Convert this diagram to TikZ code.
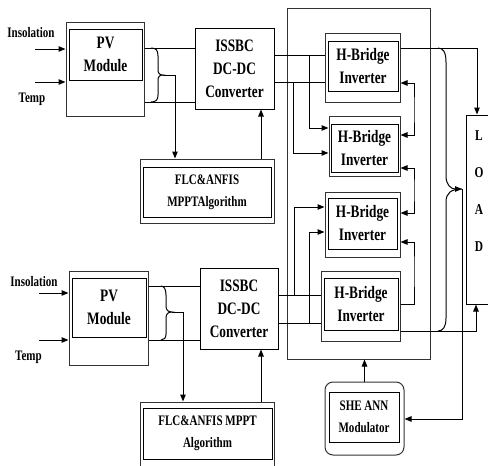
\documentclass[tikz,border=0pt]{standalone}
\usepackage{fontspec}
\setmainfont{Liberation Serif}
\newfontfamily\lblfont{Liberation Serif}[UprightFont=* Bold, FakeStretch=0.76]
\usetikzlibrary{arrows.meta,calc}
\begin{document}
\begin{tikzpicture}[x=1pt,y=-1pt,line width=1pt,
  big/.style={font=\lblfont\fontsize{17.5}{23}\selectfont},
  small/.style={font=\lblfont\fontsize{14.5}{22}\selectfont},
  box/.style={draw, inner sep=0pt, align=center},
  shell/.style={draw=black!80, inner sep=0pt},
  arr/.style={-{Triangle[length=7pt,width=5.5pt]}},
  biarr/.style={{Triangle[length=7pt,width=5.5pt]}-{Triangle[length=7pt,width=5.5pt]}}]
\useasboundingbox (0,0) rectangle (488,466);
\clip (0,0) rectangle (488,466);

% ---------- upper string ----------
\node[small] (ins1) at (31,33) {Insolation};
\node[small] (tmp1) at (32,99) {Temp};
\node[shell, minimum width=78, minimum height=94] (pv1o) at (105,69) {};
\node[box, big, minimum width=73, minimum height=51] (pv1) at (105.5,54.5) {PV\\Module};
\node[box, big, minimum width=79, minimum height=81] (cv1) at (234.5,68.5) {ISSBC\\DC-DC\\Converter};
\node[shell, minimum width=134, minimum height=64] (fl1o) at (207,191) {};
\node[box, small, minimum width=128, minimum height=50] (fl1) at (207,192) {FLC\&ANFIS\\MPPTAlgorithm};

% ---------- lower string ----------
\node[small] (ins2) at (34,282) {Insolation};
\node[small] (tmp2) at (28.5,357) {Temp};
\node[shell, minimum width=79, minimum height=94] (pv2o) at (108.5,318) {};
\node[box, big, minimum width=74, minimum height=59] (pv2) at (109,307.5) {PV\\Module};
\node[box, big, minimum width=78, minimum height=81] (cv2) at (239,308.5) {ISSBC\\DC-DC\\Converter};
\node[shell, minimum width=134, minimum height=68] (fl2o) at (207,436) {};
\node[box, small, minimum width=129, minimum height=51] (fl2) at (207.5,433.5) {FLC\&ANFIS MPPT\\Algorithm};

% ---------- inverter stack ----------
\node[shell, minimum width=143, minimum height=351] (encl) at (358.5,183.5) {};
\node[shell, minimum width=75, minimum height=69] (hb1o) at (362.5,67.5) {};
\node[box, big, minimum width=70, minimum height=50] (hb1) at (363,66) {H-Bridge\\Inverter};
\node[shell, minimum width=71, minimum height=60] (hb2o) at (364.5,146) {};
\node[box, big, minimum width=67, minimum height=48] (hb2) at (364.5,148) {H-Bridge\\Inverter};
\node[shell, minimum width=75, minimum height=65] (hb3o) at (362.5,224.5) {};
\node[box, big, minimum width=69, minimum height=51] (hb3) at (362.5,223.5) {H-Bridge\\Inverter};
\node[shell, minimum width=79, minimum height=70] (hb4o) at (360.5,306) {};
\node[box, big, minimum width=74, minimum height=52] (hb4) at (361,304) {H-Bridge\\Inverter};

% ---------- load and modulator ----------
\node[draw, minimum width=30, minimum height=189, inner sep=0pt] (load) at (481,209.5) {};
\node[small, align=center, font=\lblfont\fontsize{15}{37}\selectfont] (loadtxt) at (479,191) {L\\O\\A\\D};
\node[shell, rounded corners=8pt, minimum width=79, minimum height=73] (modo) at (364.5,418.5) {};
\node[box, small, minimum width=70, minimum height=50] (mod) at (364,417) {SHE ANN\\Modulator};

% ---------- upper string wiring ----------
\coordinate (a1) at (35,49);
\coordinate (a2) at (35,82);
\draw[arr] (a1) -- (a1 -| pv1o.west);
\draw[arr] (a2) -- (a2 -| pv1o.west);
\draw (pv1o.east |- 0,48) -- (cv1.west |- 0,48);
\draw (pv1o.east |- 0,102) -- (cv1.west |- 0,102);
\coordinate (b1) at (163,75);
\draw (151,48) .. controls (156,48) and (158,50) .. (158,56) -- (158,69)
  .. controls (158,73) and (159,75) .. (b1)
  .. controls (159,75) and (158,77) .. (158,81) -- (158,95)
  .. controls (158,100) and (156,102) .. (151,102);
\draw[arr] (b1) -| (175,0 |- fl1o.north);
\draw[arr] (261,0 |- fl1o.north) -- (261,0 |- cv1.south);

\draw (cv1.east |- 0,55) -- (hb1o.west |- 0,55);
\draw (cv1.east |- 0,82) -- (hb1o.west |- 0,82);
\draw[arr] (309,55) |- (hb2o.west |- 0,128);
\draw[arr] (293,82) |- (hb2o.west |- 0,153);

% ---------- lower string wiring ----------
\coordinate (a3) at (39,293);
\coordinate (a4) at (39,340);
\draw[arr] (a3) -- (a3 -| pv2o.west);
\draw[arr] (a4) -- (a4 -| pv2o.west);
\draw (pv2o.east |- 0,286) -- (cv2.west |- 0,286);
\draw (pv2o.east |- 0,340) -- (cv2.west |- 0,340);
\coordinate (b2) at (172,312);
\draw (161,286) .. controls (164,286) and (166,289) .. (166,295) -- (166,306)
  .. controls (166,310) and (168,312) .. (b2)
  .. controls (168,312) and (166,314) .. (166,318) -- (166,334)
  .. controls (166,338) and (164,340) .. (161,340);
\draw[arr] (b2) -| (183,0 |- fl2o.north);
\draw[arr] (261,0 |- fl2o.north) -- (261,0 |- cv2.south);

\draw (cv2.east |- 0,295) -- (hb4o.west |- 0,295);
\draw (cv2.east |- 0,323) -- (hb4o.west |- 0,323);
\draw[arr] (294,295) |- (hb3o.west |- 0,207);
\draw[arr] (309,323) |- (hb3o.west |- 0,232);

% ---------- bridge feedback links ----------
\draw[biarr] (hb1o.east |- 0,83) -| (414,110) |- (hb2o.east |- 0,135);
\draw[biarr] (hb2o.east |- 0,168) -| (414,190) |- (hb3o.east |- 0,213);
\draw[arr] (hb4o.east |- 0,304) -| (414,270) |- (hb3o.east |- 0,242);

% ---------- outputs to load ----------
\draw[arr] (hb1o.east |- 0,48) -| (477,0 |- load.north);
\draw[arr] (hb4o.east |- 0,331) -| (476,0 |- load.south);
\coordinate (b3) at (462,189);
\draw[arr] (438,48) .. controls (443,48) and (446,52) .. (446,62) -- (446,176)
  .. controls (446,185) and (451,189) .. (b3);
\draw (b3) .. controls (451,189) and (446,193) .. (446,202) -- (446,318)
  .. controls (446,327) and (443,331) .. (438,331);
\draw[arr] (b3) |- (modo.east |- 0,419);
\draw[arr] (modo.north) -- (modo.north |- encl.south);
\end{tikzpicture}
\end{document}
